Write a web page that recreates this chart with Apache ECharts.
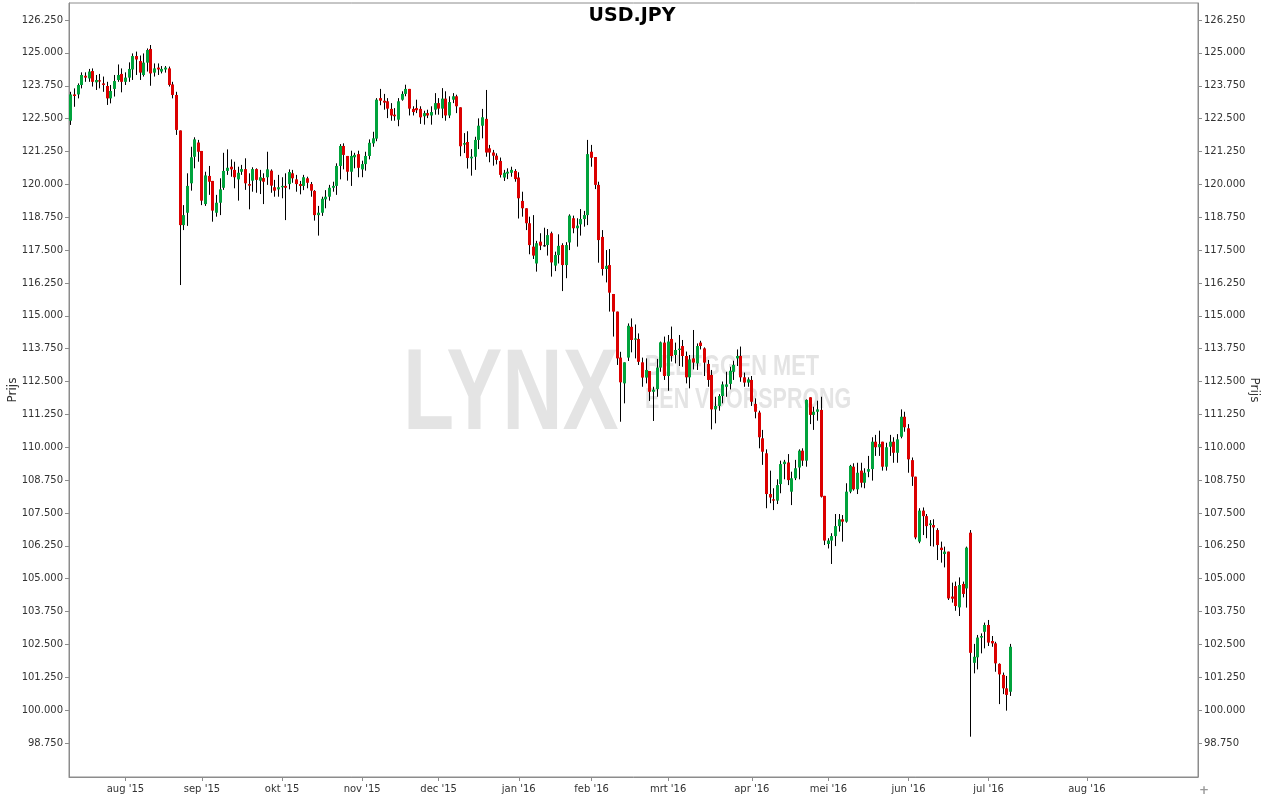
<!DOCTYPE html>
<html>
<head>
<meta charset="utf-8">
<script src="https://cdn.jsdelivr.net/npm/echarts@6/dist/echarts.min.js"></script>
<style>
html,body{margin:0;padding:0;background:#fff;}
#chart{width:1264px;height:798px;}
</style>
</head>
<body>
<div id="chart"></div>
<script>
// ---- Axis / calendar definition ----
const firstCandleDate = '2015-07-13';
const lastCandleDate = '2016-07-11';
const axisEndDate = '2016-08-31';
const closedDays = ['2015-12-25', '2016-01-01'];
const monthNames = ['jan','feb','mrt','apr','mei','jun','jul','aug','sep','okt','nov','dec'];
const priceTicks = [98.75,100,101.25,102.5,103.75,105,106.25,107.5,108.75,110,111.25,112.5,113.75,115,116.25,117.5,118.75,120,121.25,122.5,123.75,125,126.25];
const yAxisTitle = 'Prijs';

// ---- Daily USD.JPY candles ----
const opens = [
122.42,123.42,123.42,123.78,124.13,124.03,124.31,123.88,123.96,123.84,123.74,123.27,123.63,123.97,124.20,123.90,124.06,124.37,124.88,124.69,
124.16,124.63,125.15,124.25,124.44,124.29,124.37,124.41,123.80,123.40,
122.05,118.45,118.92,120.04,121.05,121.59,121.27,119.25,120.32,120.13,118.92,119.30,119.87,120.51,120.67,120.55,120.19,120.48,120.58,120.01,
120.14,120.58,120.14,120.24,120.27,120.52,119.89,119.81,
119.89,119.94,120.01,120.42,120.19,120.01,119.94,120.23,120.01,119.75,118.83,118.92,119.43,119.53,119.87,119.94,120.70,121.46,121.08,120.48,
121.03,121.15,120.57,120.77,121.08,121.56,
121.74,123.28,123.18,123.16,122.87,122.65,122.46,123.22,123.44,123.63,122.87,122.90,122.87,122.59,122.71,122.62,122.84,123.09,122.88,123.26,
122.62,123.22,123.35,122.93,121.51,121.61,
120.99,121.05,121.69,122.23,122.49,121.37,121.21,121.09,120.89,120.26,120.41,120.44,120.51,120.26,119.37,119.09,118.52,117.63,116.99,117.82,
117.68,117.69,118.14,116.91,117.31,117.69,116.93,
117.79,118.71,118.33,118.48,118.68,118.83,121.24,121.04,119.98,118.00,116.78,116.93,115.83,115.16,113.41,112.43,113.41,114.58,114.09,114.12,
113.23,112.65,112.90,112.11,112.21,113.03,
113.98,112.71,114.12,113.51,113.70,113.85,113.47,112.66,113.38,113.19,113.98,113.76,113.17,112.75,111.44,111.57,111.95,112.30,112.41,112.87,
113.38,113.47,112.66,112.46,112.56,111.65,
111.32,110.34,109.77,108.22,108.02,107.97,108.60,109.36,109.42,108.31,108.82,109.23,109.87,109.49,111.90,111.23,111.35,111.42,108.15,106.32,
106.45,106.62,107.00,107.26,107.17,108.31,109.26,
108.40,109.11,108.65,109.07,109.17,110.21,110.00,110.21,109.26,110.02,110.21,109.79,110.40,111.16,110.72,109.51,108.88,106.41,107.59,107.38,
107.04,107.04,106.85,106.18,105.94,106.03,
104.32,104.72,103.91,104.80,104.63,106.75,101.80,102.01,102.76,102.98,103.24,102.63,102.54,101.76,101.34,100.83,100.70
];
const closes = [
123.42,123.36,123.78,124.16,124.06,124.29,123.90,123.97,123.91,123.78,123.27,123.55,123.93,124.16,123.90,124.06,124.39,124.88,124.75,124.25,
124.63,125.11,124.22,124.41,124.37,124.39,124.44,123.78,123.40,122.07,
118.45,118.83,119.94,121.03,121.71,121.24,119.38,120.34,120.10,119.00,119.30,119.81,120.51,120.63,120.57,120.27,120.44,120.58,120.04,119.95,
120.58,120.17,120.27,120.10,120.57,119.95,119.76,119.89,
119.94,119.87,120.47,120.23,120.01,119.94,120.27,120.06,119.76,118.83,118.92,119.45,119.53,119.87,119.94,120.70,121.46,121.12,120.48,121.08,
121.12,120.63,120.77,121.08,121.58,121.75,
123.22,123.18,123.11,122.88,122.62,122.59,123.16,123.44,123.63,122.88,122.75,122.82,122.55,122.71,122.62,122.75,123.09,122.88,123.26,122.62,
123.13,123.35,122.97,121.45,121.57,121.00,
121.05,121.69,122.23,122.55,121.21,121.21,121.09,120.93,120.36,120.44,120.48,120.55,120.20,119.47,119.09,118.52,117.69,117.29,117.76,117.67,
117.68,118.07,117.03,117.31,117.66,116.93,117.69,
118.81,118.33,118.43,118.68,118.83,121.15,121.01,119.98,117.88,116.78,116.90,115.88,115.16,113.38,112.47,113.23,114.62,114.08,114.14,113.25,
112.65,112.94,112.11,112.19,113.03,113.99,
112.71,114.02,113.47,113.70,113.75,113.47,112.66,113.34,113.22,113.85,113.85,113.22,112.56,111.44,111.57,111.95,112.39,112.39,112.91,113.13,
113.47,112.66,112.46,112.58,111.73,111.35,
110.38,109.83,108.22,108.09,107.97,108.56,109.36,109.45,108.75,108.82,109.20,109.87,109.49,111.80,111.23,111.35,111.44,108.12,106.45,106.45,
106.62,107.00,107.26,107.17,108.31,109.29,108.40,
109.03,108.65,109.03,109.17,110.21,110.00,110.12,109.26,110.00,110.21,109.79,110.30,111.16,110.76,109.54,108.88,106.57,107.59,107.38,107.00,
107.10,106.95,106.28,106.09,106.03,104.25,
104.24,103.96,104.76,104.42,106.18,102.18,102.03,102.76,102.82,103.24,102.57,102.54,101.78,101.36,100.83,100.58,102.41
];
const highs = [
123.52,123.65,123.84,124.26,124.26,124.39,124.41,124.16,124.20,124.10,123.90,123.78,124.16,124.56,124.41,124.26,124.64,124.98,125.05,124.90,
124.98,125.17,125.30,124.60,124.60,124.50,124.50,124.48,123.90,123.52,
122.05,119.21,120.42,121.43,121.79,121.69,121.27,120.48,120.70,120.13,119.60,120.23,121.20,121.33,120.95,120.86,120.67,120.74,120.99,120.42,
120.65,120.61,120.55,120.42,121.24,120.57,120.17,120.36,
120.27,120.42,120.57,120.55,120.36,120.13,120.36,120.29,120.09,119.78,119.18,119.53,119.78,119.98,120.10,120.80,121.53,121.56,121.08,121.28,
121.20,121.28,120.90,121.24,121.71,122.00,
123.28,123.63,123.44,123.28,123.09,122.90,123.28,123.54,123.79,123.63,122.97,123.22,122.97,122.80,122.84,122.97,123.47,123.28,123.66,123.54,
123.35,123.47,123.41,122.93,121.95,122.02,
121.34,121.81,122.51,122.87,123.59,121.50,121.31,121.18,121.02,120.55,120.61,120.67,120.58,120.46,119.72,119.09,118.77,118.83,117.85,118.14,
118.35,118.30,118.20,117.44,118.10,117.76,117.80,
118.86,118.81,118.71,119.06,118.99,121.69,121.50,121.04,120.10,118.26,117.50,117.54,115.83,115.16,113.63,113.23,114.71,114.90,114.67,114.33,
113.41,113.38,112.90,112.30,113.36,114.02,
114.21,114.27,114.59,113.98,114.27,114.08,113.64,113.51,114.46,113.95,114.05,113.80,113.32,112.94,111.92,112.02,112.50,112.87,113.06,113.29,
113.72,113.83,112.84,112.66,112.71,111.86,
111.39,110.66,109.92,109.11,108.44,108.78,109.49,109.52,109.74,109.07,109.52,109.92,109.96,111.82,111.90,111.54,111.77,111.92,108.15,106.54,
106.73,107.46,107.46,107.42,108.63,109.33,109.39,
109.41,109.41,109.20,109.67,110.38,110.47,110.63,110.21,110.17,110.47,110.38,110.50,111.44,111.35,110.88,109.61,108.88,107.68,107.71,107.46,
107.23,107.26,106.92,106.41,106.22,106.03,
104.85,104.89,105.05,104.89,106.22,106.85,102.52,102.86,102.92,103.33,103.43,102.82,102.60,101.78,101.43,101.30,102.52
];
const lows = [
122.26,122.95,123.27,123.65,123.90,123.90,123.72,123.59,123.65,123.52,123.02,123.08,123.34,123.90,123.50,123.78,123.90,123.97,124.16,123.97,
124.10,124.29,123.75,124.10,124.16,124.22,124.25,123.72,123.27,121.88,
116.17,118.26,118.42,119.76,120.61,120.86,119.21,119.18,119.60,118.58,118.77,118.83,119.79,120.36,120.29,119.85,119.38,120.36,119.79,119.05,
119.72,119.68,119.63,119.25,119.98,119.68,119.53,119.53,
119.47,118.64,119.81,120.06,119.72,119.62,119.78,119.85,119.53,118.62,118.05,118.80,119.09,119.38,119.72,119.60,120.19,120.57,120.14,119.94,
120.61,120.27,120.27,120.52,120.95,121.43,
121.64,123.01,122.84,122.52,122.42,122.42,122.21,123.18,123.35,122.62,122.62,122.71,122.30,122.27,122.52,122.27,122.65,122.65,122.52,122.42,
122.52,123.09,122.71,121.07,121.19,120.60,
120.33,120.55,121.34,121.75,121.05,120.84,120.71,120.76,120.26,120.13,120.20,120.29,120.10,118.70,118.77,118.26,117.34,117.16,116.68,117.50,
117.63,117.29,116.49,116.70,116.99,115.94,116.43,
117.50,118.14,117.63,118.05,118.39,118.45,120.67,119.82,117.02,116.53,116.27,115.16,114.21,113.13,110.97,111.67,113.28,113.61,113.38,113.13,
112.30,112.43,111.76,111.00,111.92,112.87,
112.56,112.15,113.26,113.19,113.09,113.06,112.43,112.24,112.96,112.94,113.72,112.71,112.30,110.68,110.91,111.39,111.67,111.92,112.20,112.56,
113.09,112.49,112.30,112.30,111.57,111.10,
109.96,109.33,107.68,107.87,107.61,107.84,108.25,108.78,108.56,107.80,108.75,108.78,109.29,109.26,110.88,110.66,111.01,108.09,106.28,106.15,
105.56,106.24,106.79,106.41,107.13,108.25,108.35,
108.22,108.47,108.44,108.86,108.73,109.67,109.67,109.11,109.11,109.67,109.41,109.41,110.34,110.59,109.03,108.53,106.50,106.35,106.66,106.54,
106.24,106.22,105.71,105.61,105.43,104.19,
104.09,103.78,103.58,104.29,103.90,98.99,101.40,101.55,102.16,102.35,102.44,102.41,101.46,100.23,100.61,99.98,100.54
];

// ---- Build category axis: trading days up to the last candle, calendar days after ----
function iso(d){ return d.toISOString().slice(0,10); }
const categories = [];
{
  let d = new Date(firstCandleDate + 'T00:00:00Z');
  const end = new Date(axisEndDate + 'T00:00:00Z');
  while (d <= end) {
    const s = iso(d);
    const wd = d.getUTCDay();
    if (s > lastCandleDate || (wd >= 1 && wd <= 5 && closedDays.indexOf(s) < 0)) categories.push(s);
    d = new Date(d.getTime() + 86400000);
  }
}
const monthStart = categories.map((s, i) => i > 0 && s.slice(0,7) !== categories[i-1].slice(0,7));
const candleData = opens.map((o, i) => [i, o, closes[i], lows[i], highs[i]]);

const UP = '#00a33c', DOWN = '#dc0000';
const txt = '#333333', axisCol = '#8c8c8c';
const fontFam = 'DejaVu Sans';

const chart = echarts.init(document.getElementById('chart'), null, {renderer: 'canvas'});
const yAxisCommon = {
  type: 'value', min: 97.457, max: 126.898, scale: true,
  axisLine: {show: true, lineStyle: {color: axisCol}},
  axisTick: {show: true, length: 4, lineStyle: {color: axisCol}, customValues: priceTicks},
  axisLabel: {color: txt, fontSize: 10, fontFamily: fontFam, margin: 6, customValues: priceTicks,
              formatter: v => Number(v).toFixed(3)},
  splitLine: {show: false}
};
chart.setOption({
  animation: false,
  backgroundColor: '#ffffff',
  title: {text: 'USD.JPY', left: 'center', top: 7, padding: 0,
          textStyle: {fontSize: 19, fontWeight: 'bold', color: '#000', fontFamily: fontFam}},
  grid: {left: 69, right: 66, top: 3, bottom: 21, containLabel: false, outerBoundsMode: 'none',
         show: true, borderColor: axisCol, borderWidth: 1, backgroundColor: 'transparent'},
  graphic: [
    {type: 'text', x: 403, y: 397, scaleX: 0.728, z: 0, zlevel: 0, silent: true,
     style: {text: 'LYNX', fill: '#e4e4e4', font: 'bold 115px "Liberation Sans"', align: 'left', verticalAlign: 'middle'}},
    {type: 'text', x: 645, y: 367, scaleX: 0.75, z: 0, silent: true,
     style: {text: 'BELEGGEN MET', fill: '#e4e4e4', font: 'bold 29px "Liberation Sans"', align: 'left', verticalAlign: 'middle'}},
    {type: 'text', x: 645, y: 400, scaleX: 0.74, z: 0, silent: true,
     style: {text: 'EEN VOORSPRONG', fill: '#e4e4e4', font: 'bold 29px "Liberation Sans"', align: 'left', verticalAlign: 'middle'}},
    {type: 'text', x: 1204, y: 791, z: 0, silent: true,
     style: {text: '+', fill: '#999', font: 'bold 12px "DejaVu Sans"', align: 'center', verticalAlign: 'middle'}},
    {type: 'text', x: 13, y: 390, rotation: Math.PI / 2, z: 10, silent: true,
     style: {text: yAxisTitle, fill: txt, font: '12px "DejaVu Sans"', align: 'center', verticalAlign: 'middle'}},
    {type: 'text', x: 1254, y: 390, rotation: -Math.PI / 2, z: 10, silent: true,
     style: {text: yAxisTitle, fill: txt, font: '12px "DejaVu Sans"', align: 'center', verticalAlign: 'middle'}}
  ],
  xAxis: {
    type: 'category', data: categories, boundaryGap: true,
    axisLine: {show: true, lineStyle: {color: axisCol}},
    axisTick: {show: true, alignWithLabel: true, length: 4, lineStyle: {color: axisCol},
               interval: (i) => monthStart[i]},
    axisLabel: {color: txt, fontSize: 10, fontFamily: fontFam, margin: 7,
                interval: (i) => monthStart[i],
                formatter: (v) => monthNames[parseInt(v.slice(5,7),10)-1] + " '" + v.slice(2,4)},
    splitLine: {show: false}
  },
  yAxis: [
    Object.assign({}, yAxisCommon, {position: 'left'}),
    Object.assign({}, yAxisCommon, {position: 'right'})
  ],
  series: [{
    type: 'custom',
    name: 'USD.JPY',
    xAxisIndex: 0, yAxisIndex: 0,
    z: 5,
    encode: {x: 0, y: [1, 2, 3, 4]},
    data: candleData,
    renderItem: function (params, api) {
      const i = api.value(0);
      const o = api.value(1), c = api.value(2), l = api.value(3), h = api.value(4);
      const pO = api.coord([i, o]), pC = api.coord([i, c]);
      const pL = api.coord([i, l]), pH = api.coord([i, h]);
      const x = Math.floor(pO[0]);
      const top = Math.min(pO[1], pC[1]), bot = Math.max(pO[1], pC[1]);
      const col = c > o ? UP : (c < o ? DOWN : '#000');
      return {
        type: 'group',
        children: [
          {type: 'line', shape: {x1: x + 0.5, y1: pH[1], x2: x + 0.5, y2: pL[1]},
           style: {stroke: '#000', lineWidth: 1}},
          {type: 'rect', shape: {x: x - 1, y: top, width: 3, height: Math.max(1, bot - top)},
           style: {fill: col}}
        ]
      };
    }
  }]
});
</script>
</body>
</html>
